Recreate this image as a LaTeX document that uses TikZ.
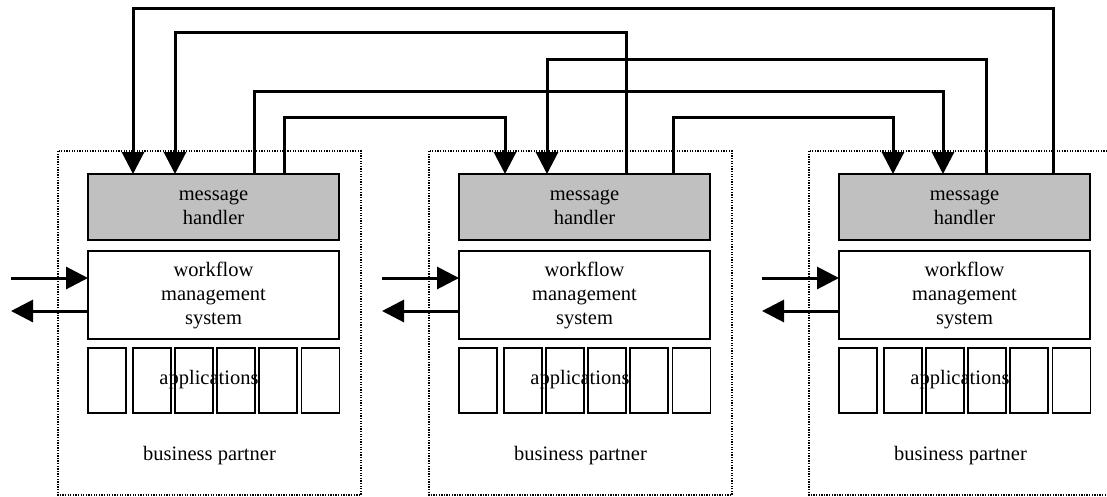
\documentclass[tikz,border=0pt]{standalone}
\usepackage{fontspec}
\setmainfont{Liberation Serif}
\usetikzlibrary{arrows.meta}
\definecolor{mhgray}{HTML}{C0C0C0}
\tikzset{
  partner/.style={draw, line width=1.2pt, dash pattern=on 1.3pt off 1.3pt},
  block/.style={draw, line width=1.3pt, inner sep=0pt, outer sep=0pt, align=center,
    font=\fontsize{20.5}{24}\selectfont},
  handler/.style={block, fill=mhgray, minimum width=251pt, minimum height=66pt},
  wfms/.style={block, fill=white, minimum width=251pt, minimum height=88pt},
  app/.style={block, fill=white, minimum width=38pt, minimum height=65pt},
  lbl/.style={inner sep=0pt, font=\fontsize{20.5}{24}\selectfont},
  flow/.style={line width=3pt, line join=miter, -{Triangle[length=22pt,width=22pt]}},
  wire/.style={line width=3pt, line join=miter}
}
\begin{document}
\begin{tikzpicture}[x=1pt,y=-1pt]
\useasboundingbox (0,0) rectangle (1107,496);
\foreach \i/\dx in {1/0,2/371,3/751}{
  % business partner frame
  \draw[partner] (58+\dx,151) rectangle (361+\dx,495);
  \node[handler] (mh\i) at (213.5+\dx,207) {message\\handler};
  \node[wfms] (wf\i) at (213.5+\dx,295) {workflow\\management\\system};
  \foreach \j/\ax in {1/107,2/152,3/194,4/236,5/278,6/320.5}
    \node[app] (ap\i\j) at (\ax+\dx,380.5) {};
  \node[lbl] (al\i) at (209+\dx,380) {applications};
  \node[lbl] (bp\i) at (209.5+\dx,456) {business partner};
  % external flows into and out of the workflow system
  \coordinate (in\i) at (11+\dx,278);
  \coordinate (out\i) at (11+\dx,311);
  \draw[flow] (in\i) -- (in\i -| wf\i.west);
  \draw[flow] (out\i -| wf\i.west) -- (out\i);
}
% message exchanges between the handlers
\draw[flow] (1053,0 |- mh3.north) |- (133,8) -- (133,0 |- mh1.north);
\draw[flow] (626,0 |- mh2.north) |- (175,32) -- (175,0 |- mh1.north);
\draw[flow] (986,0 |- mh3.north) |- (547,59) -- (547,0 |- mh2.north);
\draw[flow] (254,0 |- mh1.north) |- (943,91) -- (943,0 |- mh3.north);
\draw[flow] (284,0 |- mh1.north) |- (505,117) -- (505,0 |- mh2.north);
\draw[flow] (673,0 |- mh2.north) |- (893,117) -- (893,0 |- mh3.north);
\end{tikzpicture}
\end{document}
